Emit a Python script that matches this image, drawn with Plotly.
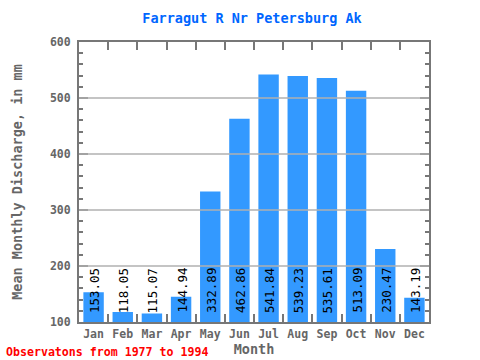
import plotly.graph_objects as go

months = ["Jan", "Feb", "Mar", "Apr", "May", "Jun", "Jul", "Aug", "Sep", "Oct", "Nov", "Dec"]
discharge = [153.05, 118.05, 115.07, 144.94, 332.89, 462.86, 541.84, 539.23, 535.61, 513.09, 230.47, 143.19]
y_ticks = [100, 200, 300, 400, 500, 600]
grid_values = [200, 300, 400, 500]

axis_gray = "#777777"
mono = "DejaVu Sans Mono"

fig = go.Figure()
fig.add_trace(go.Bar(
    x=months, y=discharge, marker=dict(color="#3399ff", line=dict(width=0)),
    hoverinfo="skip",
))

annotations = []
for m, v in zip(months, discharge):
    annotations.append(dict(
        x=m, y=100, xref="x", yref="y", text=f"{v:.2f}", showarrow=False,
        textangle=-90, yanchor="bottom", xanchor="center", yshift=7, xshift=1,
        font=dict(family=mono, size=12.5, color="black"),
    ))
annotations.append(dict(
    x=-0.214, y=-0.107, xref="paper", yref="paper", xanchor="left", yanchor="middle",
    text="Observatons from 1977 to 1994", showarrow=False,
    font=dict(family=mono, size=11.6, color="red", weight="bold"),
))

shapes = [dict(type="line", xref="paper", x0=0, x1=1, yref="y", y0=g, y1=g,
               line=dict(color="#b0b0b0", width=1.5), layer="above") for g in grid_values]

fig.update_layout(
    width=480, height=360,
    margin=dict(l=79, r=51, t=42, b=38, autoexpand=False),
    paper_bgcolor="white", plot_bgcolor="white",
    bargap=0.3,
    showlegend=False,
    title=dict(text="Farragut R Nr Petersburg Ak", x=0.525, xanchor="center", y=0.95, yanchor="middle",
               font=dict(family=mono, size=13.5, color="#0066ff", weight="bold")),
    annotations=annotations,
    shapes=shapes,
)
fig.update_xaxes(
    type="category", showline=True, linecolor=axis_gray, linewidth=2, mirror="ticks",
    ticks="inside", tickson="boundaries", ticklen=8, tickcolor=axis_gray, tickwidth=2,
    tickangle=0, automargin=False,
    tickfont=dict(family=mono, size=11.5, color="#666666", weight="bold"),
    title=dict(text="Month", font=dict(family=mono, size=13.5, color="#666666", weight="bold"), standoff=2),
    showgrid=False, fixedrange=True,
)
fig.update_yaxes(
    range=[100, 600], tickvals=y_ticks, showline=True, linecolor=axis_gray, linewidth=2, mirror="ticks",
    ticks="inside", ticklen=9, tickcolor=axis_gray, tickwidth=2, automargin=False, ticklabelstandoff=4,
    minor=dict(ticks="inside", ticklen=4, dtick=20, tick0=100, tickcolor=axis_gray, tickwidth=2, showgrid=False),
    tickfont=dict(family=mono, size=11.5, color="#666666", weight="bold"),
    title=dict(text="Mean Monthly Discharge, in mm", font=dict(family=mono, size=13.5, color="#666666", weight="bold"), standoff=24),
    showgrid=False, zeroline=False, fixedrange=True,
)

fig.write_html("out.html", config={"displayModeBar": False},
               post_script="document.body.style.margin='0';document.body.style.padding='0';")
